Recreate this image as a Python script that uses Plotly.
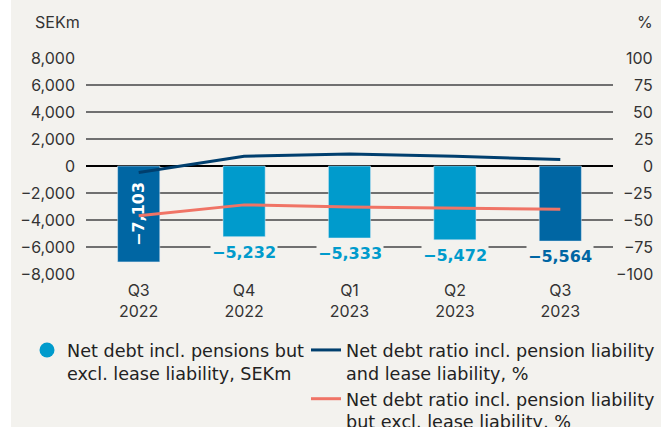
import plotly.graph_objects as go

# ---------------- data ----------------
quarters = ["Q3", "Q4", "Q1", "Q2", "Q3"]
years = ["2022", "2022", "2023", "2023", "2023"]
net_debt = [-7103, -5232, -5333, -5472, -5564]            # SEKm (bars)
ratio_incl_lease = [-6, 9, 11, 9, 6]                     # % (navy line)
ratio_excl_lease = [-46, -36, -38, -39, -40]             # % (salmon line)
left_ticks = [8000, 6000, 4000, 2000, 0, -2000, -4000, -6000, -8000]
right_ticks = [100, 75, 50, 25, 0, -25, -50, -75, -100]

name_bar = "Net debt incl. pensions but<br>excl. lease liability, SEKm"
name_l1 = "Net debt ratio incl. pension liability<br>and lease liability, %"
name_l2 = "Net debt ratio incl. pension liability<br>but excl. lease liability, %"

# ---------------- style ----------------
PANEL = "#f3f2ee"
DARK_BAR = "#0066a3"
LIGHT_BAR = "#009bcc"
NAVY = "#003f6e"
SALMON = "#f07466"
GRID = "#707070"
TXT = "#333333"
FONT = "Inter"
LBL_FONT = "DejaVu Sans"
LEG_FONT = "DejaVu Sans"

cats = [f"{q}<br>{y}" for q, y in zip(quarters, years)]
highlight = [i == 0 or i == len(cats) - 1 for i in range(len(cats))]
bar_colors = [DARK_BAR if h else LIGHT_BAR for h in highlight]


def fmt(v):
    s = f"{abs(v):,}"
    return ("\u2212" + s) if v < 0 else s


fig = go.Figure()

# bars (inside label only for first bar)
fig.add_trace(go.Bar(
    x=cats, y=net_debt, marker_color=bar_colors, width=0.4,
    text=[fmt(net_debt[0])] + [""] * (len(cats) - 1),
    textposition="inside", insidetextanchor="middle", textangle=-90,
    textfont=dict(family=LBL_FONT, size=16, color="white", weight="bold"),
    showlegend=False, yaxis="y", hoverinfo="skip", cliponaxis=False,
))

fig.add_trace(go.Scatter(
    x=cats, y=ratio_incl_lease, mode="lines", yaxis="y2",
    line=dict(color=NAVY, width=3), name=name_l1, legend="legend2",
))
fig.add_trace(go.Scatter(
    x=cats, y=ratio_excl_lease, mode="lines", yaxis="y2",
    line=dict(color=SALMON, width=3), name=name_l2, legend="legend2",
))
# legend entry for bars (circle symbol)
fig.add_trace(go.Scatter(
    x=[None], y=[None], mode="markers", yaxis="y2",
    marker=dict(symbol="circle", size=15, color=LIGHT_BAR),
    name=name_bar, legend="legend",
))

# outside bar labels with panel-coloured background
for i, (c, v) in enumerate(zip(cats, net_debt)):
    if i == 0:
        continue
    fig.add_annotation(
        x=c, y=v, xref="x", yref="y", text=fmt(v), showarrow=False,
        yanchor="top", yshift=-4, bgcolor=PANEL, borderpad=1,
        font=dict(family=LBL_FONT, size=16, color=bar_colors[i], weight="bold"),
    )

# right-axis tick labels (right aligned)
for t in right_ticks:
    fig.add_annotation(
        x=1, xref="paper", xshift=42, xanchor="right", y=t, yref="y2",
        text=fmt(t), showarrow=False,
        font=dict(family=FONT, size=16, color=TXT),
    )

# axis unit labels
fig.add_annotation(x=0, xref="paper", xshift=-53, xanchor="left",
                   y=1, yref="paper", yshift=36, yanchor="middle",
                   text="SEKm", showarrow=False,
                   font=dict(family=FONT, size=16, color=TXT))
fig.add_annotation(x=1, xref="paper", xshift=42, xanchor="right",
                   y=1, yref="paper", yshift=36, yanchor="middle",
                   text="%", showarrow=False,
                   font=dict(family=FONT, size=16, color=TXT))

# white strip at the far left (panel colour elsewhere)
fig.add_shape(type="rect", xref="paper", yref="paper",
              x0=-100 / 527, x1=-75 / 527, y0=-1, y1=2,
              fillcolor="white", line_width=0, layer="below")

fig.update_layout(
    width=661, height=427,
    margin=dict(l=86, r=48, t=58, b=153, autoexpand=False),
    paper_bgcolor=PANEL, plot_bgcolor="rgba(0,0,0,0)",
    font=dict(family=FONT, size=16, color=TXT),
    bargap=0.6,
    xaxis=dict(
        type="category", showgrid=False, zeroline=False, showline=False,
        ticks="", ticklabelstandoff=5,
        tickfont=dict(family=FONT, size=16, color=TXT),
    ),
    yaxis=dict(
        range=[-8000, 8000], tickvals=left_ticks,
        ticktext=[fmt(t) for t in left_ticks],
        showgrid=True, gridcolor=GRID, gridwidth=1.5,
        zeroline=True, zerolinecolor="black", zerolinewidth=2,
        ticks="", ticklabelstandoff=10,
        tickfont=dict(family=FONT, size=16, color=TXT),
    ),
    yaxis2=dict(
        range=[-100, 100], overlaying="y", side="right",
        tickvals=right_ticks, showticklabels=False,
        showgrid=False, zeroline=False,
    ),
    legend=dict(
        x=(27 - 86) / 527, xanchor="left", y=-(332 - 274) / 216, yanchor="top",
        bgcolor="rgba(0,0,0,0)", font=dict(family=LEG_FONT, size=17.6, color="#222"),
        itemwidth=30, itemsizing="trace", valign="top",
    ),
    legend2=dict(
        x=(306 - 86) / 527, xanchor="left", y=-(332 - 274) / 216, yanchor="top",
        bgcolor="rgba(0,0,0,0)", font=dict(family=LEG_FONT, size=17.6, color="#222"),
        itemwidth=30, tracegroupgap=0, valign="top",
    ),
)

fig.write_html(
    "out.html",
    config={"displayModeBar": False},
    post_script="document.body.style.margin='0';document.body.style.overflow='hidden';",
)
